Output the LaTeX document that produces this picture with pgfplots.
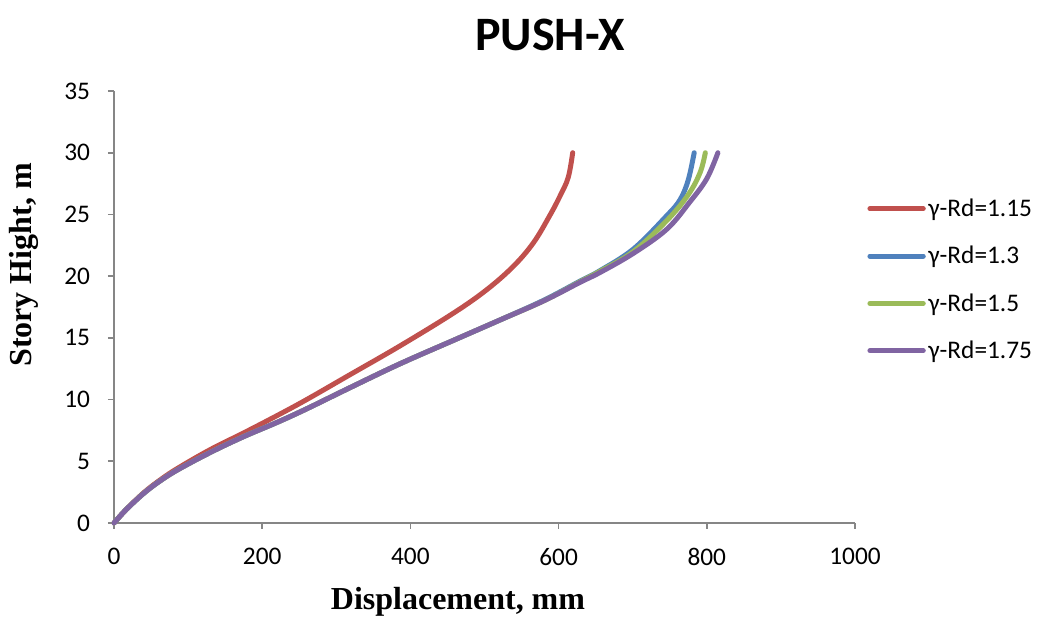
\documentclass[border=0pt]{standalone}
\usepackage{fontspec}
\setmainfont{Carlito}
\newfontfamily\tnr{Liberation Serif}
\usepackage{pgfplots}
\pgfplotsset{compat=1.18}

\definecolor{cRed}{HTML}{C0504D}
\definecolor{cBlue}{HTML}{4F81BD}
\definecolor{cGreen}{HTML}{9BBB59}
\definecolor{cPurple}{HTML}{8064A2}
\definecolor{axGrey}{HTML}{868686}

\begin{document}
\begin{tikzpicture}
% page frame: 1039 x 617 px at 0.75 pt/px, plot origin at (114px, 94px)
\path[use as bounding box] (-85.5pt,-70.5pt) rectangle (693.75pt,392.25pt);
\begin{axis}[
  scale only axis,
  width=555.75pt, height=324pt,
  xmin=0, xmax=1000, ymin=0, ymax=35,
  xtick={0,200,...,1000}, ytick={0,5,...,35},
  axis x line*=bottom, axis y line*=left,
  axis line style={axGrey, line width=1.2pt},
  tick align=outside,
  major tick length=4.5pt,
  tick style={axGrey, line width=1.2pt},
  /pgf/number format/assume math mode=true,
  /pgf/number format/1000 sep={},
  ticklabel style={font=\fontsize{19pt}{22pt}\selectfont, text=black},
  yticklabel style={xshift=-10pt},
  xticklabel style={yshift=-11pt},
  every axis plot/.append style={line width=3.75pt, line cap=round, line join=round, smooth, tension=0.6},
  legend style={draw=none, fill=none, at={(1.011,0.763)}, anchor=north west,
    font=\fontsize{19pt}{22pt}\selectfont, row sep=16.8pt,
    /tikz/every even column/.append style={column sep=0pt}},
  legend cell align=left,
  legend image code/.code={\draw[#1, line width=3.75pt, line cap=round] (0pt,0pt) -- (40pt,0pt);},
  clip=false,
]
\addplot[cRed] coordinates {
 (0,0) (10,0.68) (20,1.31) (40,2.45) (60,3.39) (85,4.4) (130,5.95) (175,7.3) (220,8.7) (260,10.0)
 (318,12.0) (386,14.35) (458,17.0) (503,18.9) (539,20.8) (566,22.7)
 (588,24.9) (602,26.5) (613,28.0) (619,30)};
\addlegendentry{γ-Rd=1.15}
\addplot[cBlue] coordinates {
 (0,0) (10,0.68) (20,1.3) (40,2.4) (60,3.32) (85,4.28) (130,5.72) (175,7.0) (220,8.15) (260,9.25)
 (318,10.95) (386,12.9) (462,14.9) (521,16.45) (580,18.05) (629,19.6)
 (656,20.45) (701,22.2) (746,24.9) (764,26.2) (775,27.8) (783,30)};
\addlegendentry{γ-Rd=1.3}
\addplot[cGreen] coordinates {
 (0,0) (10,0.68) (20,1.3) (40,2.4) (60,3.32) (85,4.28) (130,5.72) (175,7.0) (220,8.15) (260,9.25)
 (318,10.95) (386,12.9) (462,14.9) (521,16.45) (580,18.0) (629,19.55)
 (656,20.4) (701,22.0) (746,24.5) (775,26.6) (791,28.4) (798,30)};
\addlegendentry{γ-Rd=1.5}
\addplot[cPurple] coordinates {
 (0,0) (10,0.68) (20,1.3) (40,2.4) (60,3.32) (85,4.28) (130,5.72) (175,7.0) (220,8.15) (260,9.25)
 (318,10.95) (386,12.9) (462,14.9) (521,16.45) (580,18.0) (629,19.5)
 (656,20.3) (701,21.85) (746,23.8) (777,26.0) (800,27.9) (815,30)};
\addlegendentry{γ-Rd=1.75}
\end{axis}
% title and axis titles
\node[font=\fontsize{36pt}{40pt}\selectfont\bfseries] at (327pt,366pt) {PUSH-X};
\node[font=\fontsize{24pt}{28pt}\selectfont\tnr\bfseries] at (258pt,-59pt) {Displacement, mm};
\node[font=\fontsize{24pt}{28pt}\selectfont\tnr\bfseries, rotate=90] at (-67.5pt,193.5pt) {Story Hight, m};
\end{tikzpicture}
\end{document}
